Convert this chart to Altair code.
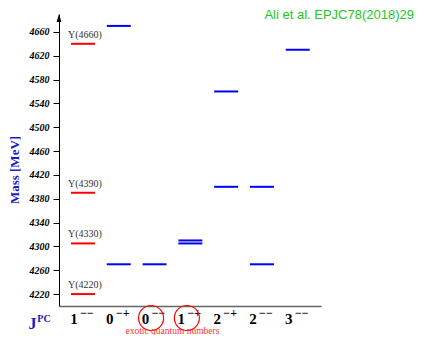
import altair as alt
import pandas as pd

categories = ["1--", "0-+", "0--", "1-+", "2-+", "2--", "3--"]
base_digits = ["1", "0", "0", "1", "2", "2", "3"]
superscripts = ["\u2212\u2212", "\u2212+", "\u2212\u2212", "\u2212+", "\u2212+", "\u2212\u2212", "\u2212\u2212"]
exotic = ["0--", "1-+"]

observed_cat = ["1--", "1--", "1--", "1--"]
observed_mass = [4220, 4305, 4390, 4640]
observed_name = ["Y(4220)", "Y(4330)", "Y(4390)", "Y(4660)"]

pred_cat = ["0-+", "0-+", "0--", "1-+", "1-+", "2-+", "2-+", "2--", "2--", "3--"]
pred_mass = [4270, 4670, 4270, 4305, 4310, 4400, 4560, 4270, 4400, 4630]

y_ticks = list(range(4220, 4661, 40))

HALF = 0.335
rows = []
for c, m, n in zip(observed_cat, observed_mass, observed_name):
    i = categories.index(c)
    rows.append({"x0": i - HALF, "x1": i + HALF, "idx": i, "mass": m, "kind": "obs", "name": n})
for c, m in zip(pred_cat, pred_mass):
    i = categories.index(c)
    rows.append({"x0": i - HALF, "x1": i + HALF, "idx": i, "mass": m, "kind": "pred", "name": ""})
levels = pd.DataFrame(rows)
obs = levels[levels.kind == "obs"]

labels = pd.DataFrame({"idx": list(range(len(categories))), "base": base_digits, "sup": superscripts})
exo = pd.DataFrame({"idx": [categories.index(e) for e in exotic]})
exo_text = pd.DataFrame({"idx": [exo.idx.mean()], "t": ["exotic quantum numbers"]})

SERIF = "Liberation Serif"
xscale = alt.Scale(domain=[-0.67, 6.65], nice=False, zero=False)
yscale = alt.Scale(domain=[4200, 4690], nice=False, zero=False)

xaxis = alt.Axis(title=None, labels=False, ticks=False, grid=False,
                 domainColor="#666666", domainWidth=1.3)
yaxis = alt.Axis(title=None, values=y_ticks, grid=False, tickSize=6, tickColor="black",
                 domainColor="black", labelFont=SERIF, labelFontStyle="italic",
                 labelFontWeight="bold", labelFontSize=10, labelColor="black",
                 labelPadding=4, format="d", labelOverlap=False)


def X(field):
    return alt.X(field, scale=xscale, axis=xaxis)


rules = alt.Chart(levels).mark_rule(strokeWidth=2).encode(
    x=X("x0:Q"),
    x2="x1:Q",
    y=alt.Y("mass:Q", scale=yscale, axis=yaxis),
    color=alt.Color("kind:N", scale=alt.Scale(domain=["obs", "pred"], range=["#ff0000", "#0000ff"]), legend=None),
)

names = alt.Chart(obs).mark_text(font=SERIF, fontSize=10, color="#333333", dx=2, dy=-6,
                                 baseline="alphabetic").encode(
    x=X("idx:Q"), y=alt.Y("mass:Q", scale=yscale, axis=yaxis), text="name:N")

base = alt.Chart(labels).mark_text(font=SERIF, fontWeight="bold", fontSize=15, color="black",
                                   dx=-9, baseline="alphabetic").encode(
    x=X("idx:Q"), y=alt.value(309.5), text="base:N")

sup = alt.Chart(labels).mark_text(font=SERIF, fontWeight="bold", fontSize=12, color="black",
                                  dx=4, baseline="alphabetic").encode(
    x=X("idx:Q"), y=alt.value(303), text="sup:N")

circles = alt.Chart(exo).mark_point(shape="circle", size=625, color="#ff0000", filled=False,
                                    strokeWidth=1.2, opacity=1, xOffset=-3.5).encode(
    x=X("idx:Q"), y=alt.value(304))

exo_lbl = alt.Chart(exo_text).mark_text(font=SERIF, fontSize=9.5, color="#ff3333",
                                        baseline="alphabetic").encode(
    x=X("idx:Q"), y=alt.value(319.5), text="t:N")

j_lbl = alt.Chart(pd.DataFrame({"t": ["J"]})).mark_text(
    font=SERIF, fontWeight="bold", fontSize=16, color="#1a1acc", baseline="alphabetic").encode(
    x=alt.value(-26.5), y=alt.value(314.5), text="t:N")
pc_lbl = alt.Chart(pd.DataFrame({"t": ["PC"]})).mark_text(
    font=SERIF, fontWeight="bold", fontSize=10, color="#1a1acc", baseline="alphabetic").encode(
    x=alt.value(-15), y=alt.value(307.5), text="t:N")

ytitle = alt.Chart(pd.DataFrame({"t": ["Mass [MeV]"]})).mark_text(
    font=SERIF, fontWeight="bold", fontSize=13, color="#1a1acc", angle=270,
    align="center", baseline="middle").encode(
    x=alt.value(-44.5), y=alt.value(156), text="t:N")

credit = alt.Chart(pd.DataFrame({"t": ["Ali et al. EPJC78(2018)29"]})).mark_text(
    font="Liberation Sans", fontSize=13, color="#22c722", align="right",
    baseline="alphabetic").encode(
    x=alt.value(355), y=alt.value(4.5), text="t:N")

arrow = alt.Chart(pd.DataFrame({"a": [0]})).mark_point(
    shape="M0,-1L0.6,1L-0.6,1Z", size=64, filled=True, color="black", opacity=1).encode(
    x=alt.value(0), y=alt.value(4))

chart = alt.layer(rules, names, base, sup, circles, exo_lbl, j_lbl, pc_lbl, ytitle, credit, arrow).properties(
    width=262, height=292,
    autosize=alt.AutoSizeParams(type="none"),
    padding={"left": 51, "top": 6, "right": 95, "bottom": 29},
).configure_view(stroke=None).configure_axisY(
    labelFont=SERIF, labelFontStyle="italic", labelFontWeight="bold", labelFontSize=10)

chart.save("out.html", embed_options={"renderer": "svg", "actions": False})
